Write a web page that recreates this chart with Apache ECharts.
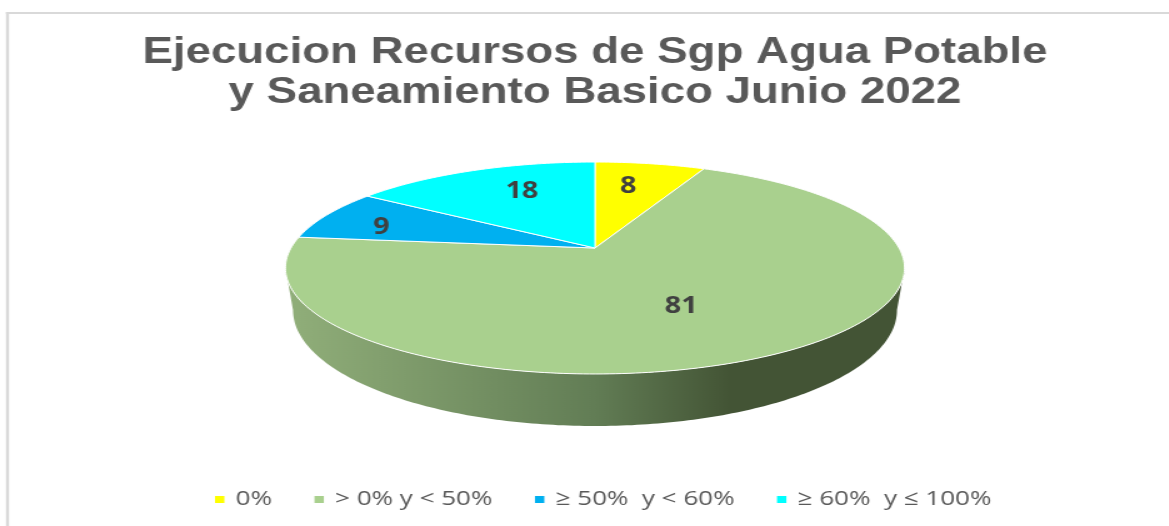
<!DOCTYPE html>
<html><head><meta charset="utf-8">
<style>html,body{margin:0;padding:0;background:#fff;overflow:hidden}
#c{height:526px;transform-origin:0 0}</style>
<script src="https://cdn.jsdelivr.net/npm/echarts@6/dist/echarts.min.js"></script>
</head><body><div id="c"></div>
<script>
const categories = ['0%', '> 0% y < 50%', '≥ 50%  y < 60%', '≥ 60%  y ≤ 100%'];
const values = [8, 81, 9, 18];
const colors = ['#FFFF00', '#A9D08E', '#00B0F0', '#00FFFF'];
const titleText = 'Ejecucion Recursos de Sgp Agua Potable\ny Saneamiento Basico Junio 2022';
// label placement inside each slice, in disc space (angle offset from slice middle in degrees, radius)
const labelShift = [-2.4, 2.5, -3, 5];
const labelRadius = [0.71, 0.566, 0.767, 0.69];

const SX = 1.25;            // the reference is stretched horizontally
const W = 1169 / SX;
const el = document.getElementById('c');
el.style.width = W + 'px';
el.style.transform = 'scaleX(' + SX + ')';

// perspective top disc
const CX = 595, APEX = 248, A = 102.2, B = 304, K = 0.1887;
// lower rim of the side wall
const RIM_Y = 310, RIM_RX = 302, RIM_RY = 116;
function proj(r, deg) {
  const t = deg * Math.PI / 180, u = r * Math.sin(t), v = -r * Math.cos(t);
  const den = 1 - K * v;
  return [(CX + B * u / den) / SX, APEX + A * v / den];
}
function rim(deg) {
  const t = deg * Math.PI / 180;
  return [(CX + RIM_RX * Math.sin(t)) / SX, RIM_Y - RIM_RY * Math.cos(t)];
}
const total = values.reduce((a, b) => a + b, 0);
const starts = []; let acc = 0;
values.forEach(v => { starts.push(acc / total * 360); acc += v; });
const TAN = Math.acos(-K) * 180 / Math.PI; // front wall limit angle

function renderSlice(params, api) {
  const i = params.seriesIndex, val = api.value(0);
  const a0 = starts[i], a1 = a0 + val / total * 360;
  const kids = [];
  // side wall
  const f0 = Math.max(a0, TAN), f1 = Math.min(a1, 360 - TAN);
  if (f1 > f0) {
    const pts = [];
    for (let d = f0; d <= f1; d += 1) pts.push(proj(1, d));
    pts.push(proj(1, f1));
    const r0 = f0 === TAN ? 90 : f0, r1 = f1 === 360 - TAN ? 270 : f1;
    pts.push(rim(r1));
    for (let d = r1; d >= r0; d -= 1) pts.push(rim(d));
    kids.push({ type: 'polygon', shape: { points: pts }, style: {
      fill: { type: 'linear', x: 0, y: 0, x2: 1, y2: 0, colorStops: [
        { offset: 0, color: '#91AF7A' }, { offset: 0.5, color: '#627D55' },
        { offset: 0.72, color: '#435435' }, { offset: 1, color: '#435435' }] } } });
  }
  const top = [proj(0, 0)];
  for (let d = a0; d < a1; d += 1) top.push(proj(1, d));
  top.push(proj(1, a1));
  kids.push({ type: 'polygon', shape: { points: top }, style: { fill: api.visual('color'), stroke: '#fff', lineWidth: 1 } });
  const lp = proj(labelRadius[i], (a0 + a1) / 2 + labelShift[i]);
  kids.push({ type: 'text', z2: 10, style: { text: String(val), x: lp[0], y: lp[1] + 1.5, align: 'center', verticalAlign: 'middle',
    fill: '#404040', font: '700 23px "Open Sans"' } });
  return { type: 'group', children: kids };
}

const chart = echarts.init(el, null, { width: W, height: 526 });
chart.setOption({
  animation: false,
  backgroundColor: '#fff',
  title: { text: titleText, left: CX / SX, top: 33, padding: 0, textAlign: 'center',
    textStyle: { fontFamily: '"Liberation Sans"', fontWeight: 'bold', fontSize: 36.5, lineHeight: 40, color: '#595959' } },
  legend: { show: true, left: 215 / SX, top: 489, padding: 0, itemWidth: 7.5, itemHeight: 7, itemGap: 34, icon: 'rect',
    data: categories, textStyle: { fontFamily: '"Open Sans"', fontSize: 20.8, color: '#595959', padding: [0, 0, 0, 4] } },
  graphic: [
    { type: 'rect', silent: true, shape: { x: 6 / SX, y: 12, width: 3 / SX, height: 514 }, style: { fill: '#D9D9D9' } },
    { type: 'rect', silent: true, shape: { x: 6 / SX, y: 12, width: W, height: 2 }, style: { fill: '#D9D9D9' } }
  ],
  series: categories.map((name, i) => ({
    type: 'custom', name, coordinateSystem: 'none', data: [values[i]],
    itemStyle: { color: colors[i] }, renderItem: renderSlice
  }))
});
</script></body></html>
